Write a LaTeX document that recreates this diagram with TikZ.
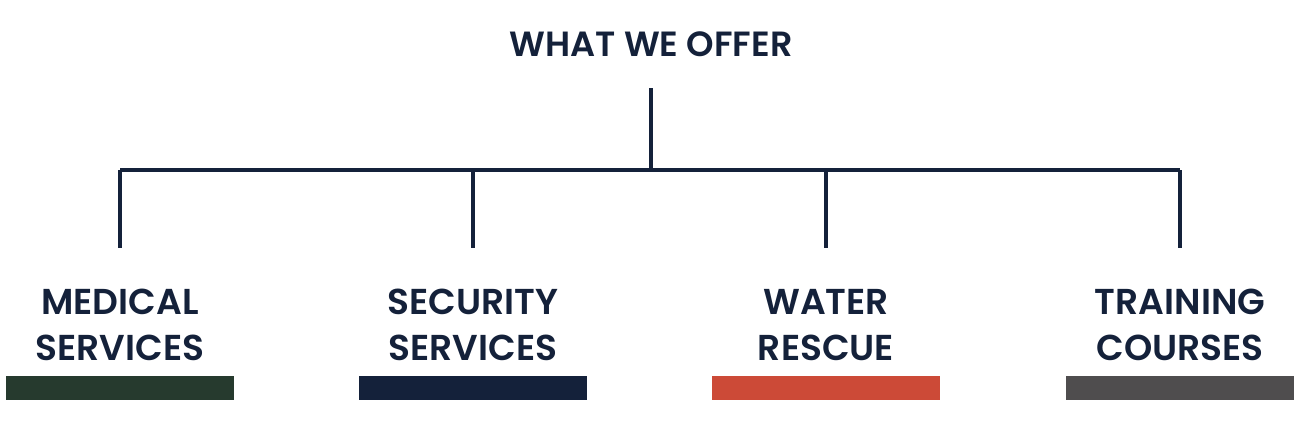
\documentclass[tikz,border=0pt]{standalone}
\usepackage{fontspec}
\setmainfont{Poppins}[UprightFont=* SemiBold]
\definecolor{navy}{HTML}{14213A}
\definecolor{cgreen}{HTML}{263A2E}
\definecolor{cred}{HTML}{CC4A37}
\definecolor{cgray}{HTML}{4F4D4E}
\begin{document}
\begin{tikzpicture}[x=1pt,y=-1pt,
  lbl/.style={text=navy,font=\fontsize{36}{46}\selectfont,align=center,inner sep=0},
  conn/.style={draw=navy,line width=4pt},
  bar/.style={minimum width=228pt,minimum height=24pt,inner sep=0}]
\useasboundingbox (0,0) rectangle (1300,428);
\node[lbl,font=\fontsize{35}{40}\selectfont] (t) at (651,44) {WHAT WE OFFER};
\coordinate (top) at (651,88);
\coordinate (hub) at (651,170);
\foreach \x/\n/\txt/\c in {120/a/{MEDICAL\\SERVICES}/cgreen,473/b/{SECURITY\\SERVICES}/navy,826/c/{WATER\\RESCUE}/cred,1180/d/{TRAINING\\COURSES}/cgray}{
  \coordinate (\n h) at (\x,170);
  \coordinate (\n e) at (\x,248);
  \node[lbl] (\n) at (\x,325) {\txt};
  \node[bar,fill=\c] (\n bar) at (\x,388) {};
}
\draw[conn] (top) -- (hub);
\draw[conn] (ah) -- (dh);
\foreach \n in {a,b,c,d} \draw[conn] (\n h) -- (\n e);
\end{tikzpicture}
\end{document}
